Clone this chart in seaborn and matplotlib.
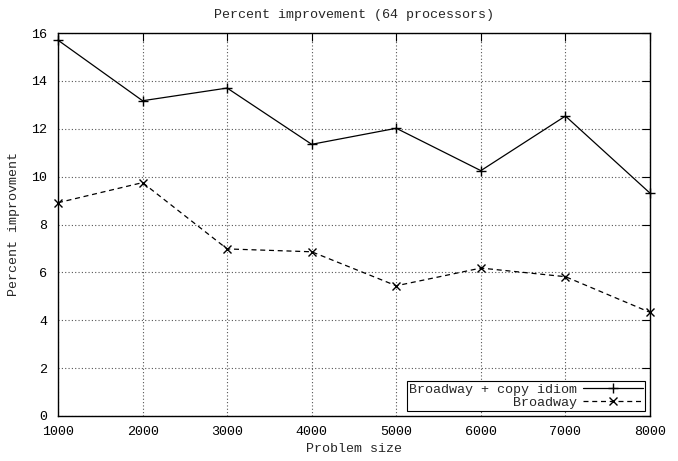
import matplotlib
matplotlib.use("Agg")
import matplotlib.pyplot as plt
import seaborn as sns
import pandas as pd

sizes = [1000, 2000, 3000, 4000, 5000, 6000, 7000, 8000]
copy_idiom = [15.7, 13.17, 13.7, 11.35, 12.02, 10.25, 12.53, 9.31]
broadway = [8.91, 9.75, 6.98, 6.86, 5.44, 6.18, 5.82, 4.33]
x_ticks = [1000, 2000, 3000, 4000, 5000, 6000, 7000, 8000]
y_ticks = [0, 2, 4, 6, 8, 10, 12, 14, 16]

sns.set_style("white")
plt.rcParams['font.family'] = ['Liberation Mono', 'DejaVu Sans Mono']
FS = 9.6
plt.rcParams['font.size'] = FS

fig = plt.figure(figsize=(6.78, 4.61), dpi=100)
L, R, T, B = 58, 650, 33, 416
ax = fig.add_axes([L/678, 1-B/461, (R-L)/678, (B-T)/461])

df1 = pd.DataFrame({"size": sizes, "val": copy_idiom})
df2 = pd.DataFrame({"size": sizes, "val": broadway})
sns.lineplot(data=df1, x="size", y="val", ax=ax, color="black", lw=0.9,
             marker="+", markersize=7.5, markeredgewidth=1.0,
             markeredgecolor="black", markerfacecolor="black",
             label="Broadway + copy idiom", clip_on=False)
sns.lineplot(data=df2, x="size", y="val", ax=ax, color="black", lw=0.9,
             linestyle=(0, (4, 3)), marker="x", markersize=6, markeredgewidth=1.0,
             markeredgecolor="black", markerfacecolor="black",
             label="Broadway", clip_on=False)

ax.set_xlim(1000, 8000)
ax.set_ylim(0, 16)
ax.set_xticks(x_ticks)
ax.set_yticks(y_ticks)
ax.grid(True, linestyle=(0, (1, 2)), color="#555555", lw=0.8)
for s in ax.spines.values():
    s.set_color("black")
    s.set_linewidth(1.0)
ax.tick_params(direction="in", length=6, width=0.8, top=True, right=True,
               colors="black", labelsize=FS)
ax.tick_params(axis="y", pad=8)
ax.tick_params(axis="x", pad=7)
ax.set_xlabel("Problem size", fontsize=FS, labelpad=4)
ax.set_ylabel("Percent improvment", fontsize=FS, labelpad=8)
ax.set_title("Percent improvement (64 processors)", fontsize=FS, pad=11)

leg = ax.legend(loc="lower right", markerfirst=False, frameon=True,
                fancybox=False, edgecolor="black", framealpha=1,
                borderaxespad=0.4, handlelength=4.5, handletextpad=0.4,
                labelspacing=0.05, borderpad=0.15, fontsize=FS)
leg.get_frame().set_linewidth(0.8)

fig.savefig("out.png", dpi=100)
